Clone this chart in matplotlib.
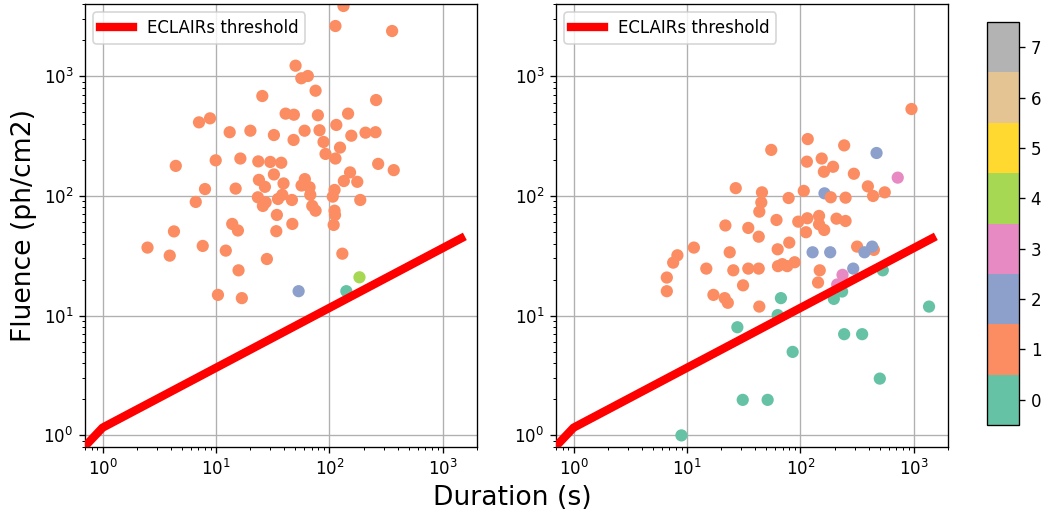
import matplotlib
matplotlib.use("Agg")
import matplotlib.pyplot as plt
import numpy as np

# ---------------- data ----------------
left_duration = [133, 113, 357, 50.3, 56.5, 64.5, 75.5, 25.6, 258, 41.1,
                 48.6, 79.1, 146, 7.08, 8.86, 115, 13.2, 20.1, 32.4, 60.4,
                 81.8, 156, 208, 255, 48.3, 88.7, 124, 92.4, 113, 4.42,
                 9.94, 16.4, 23.6, 30.1, 37.6, 269, 369, 32.4, 152, 23.9,
                 60.7, 134, 176, 27.0, 39.4, 56.8, 66.8, 111, 8.0, 14.9,
                 67.8, 38.4, 23.4, 35.2, 46.7, 27.4, 107, 187, 6.63, 25.9,
                 70.6, 75.5, 111, 112, 34.4, 13.9, 47.1, 109, 4.26, 15.6,
                 34.0, 2.49, 3.91, 7.64, 12.2, 28.1, 130, 15.8, 53.5, 141,
                 184, 10.4, 16.9]
left_fluence = [3850, 2620, 2380, 1222, 959, 1002, 755, 682, 631, 486,
                476, 471, 486, 411, 444, 391, 340, 350, 322, 350,
                353, 318, 337, 340, 293, 282, 253, 224, 205, 178,
                198, 205, 194, 192, 189, 185, 164, 151, 157, 136,
                138, 133, 131, 119, 127, 122, 118, 112, 114, 115,
                102, 102, 97.3, 94.2, 92.4, 88.4, 98.5, 92.4, 89.0, 82.4,
                82.4, 75.2, 75.2, 69.3, 69.3, 58.3, 58.3, 57.2, 50.5, 51.4,
                50.7, 37.0, 31.7, 38.2, 34.9, 29.7, 32.9, 23.9, 16.0, 16.0,
                20.9, 14.9, 14.0]
left_category = [1, 1, 1, 1, 1, 1, 1, 1, 1, 1,
                 1, 1, 1, 1, 1, 1, 1, 1, 1, 1,
                 1, 1, 1, 1, 1, 1, 1, 1, 1, 1,
                 1, 1, 1, 1, 1, 1, 1, 1, 1, 1,
                 1, 1, 1, 1, 1, 1, 1, 1, 1, 1,
                 1, 1, 1, 1, 1, 1, 1, 1, 1, 1,
                 1, 1, 1, 1, 1, 1, 1, 1, 1, 1,
                 1, 1, 1, 1, 1, 1, 1, 1, 2, 0,
                 4, 1, 1]

right_duration = [953, 116, 55.3, 243, 469, 154, 114, 194, 161, 296,
                  721, 393, 26.9, 45.8, 107, 163, 554, 437, 185, 250,
                  78.7, 45.2, 43.4, 61.5, 95.7, 115, 146, 146, 208, 250,
                  21.8, 34.7, 112, 162, 42.9, 11.5, 8.23, 7.55, 23.8, 63.0,
                  79.7, 128, 183, 316, 444, 367, 429, 14.8, 25.6, 34.7,
                  42.9, 63.4, 69.2, 76.5, 88.9, 148, 292, 532, 6.64, 31.2,
                  143, 235, 211, 6.64, 17.1, 21.5, 22.9, 43.4, 67.3, 197,
                  233, 63.0, 1361, 27.8, 85.4, 243, 350, 501, 31.0, 51.4,
                  8.93]
right_fluence = [531, 298, 242, 264, 228, 205, 193, 175, 159, 153,
                 142, 120, 116, 107, 110, 105, 107, 99.8, 97.3, 96.6,
                 96.0, 88.1, 73.8, 62.9, 60.9, 65.0, 68.0, 57.9, 64.5, 61.7,
                 56.6, 54.0, 49.7, 51.9, 45.6, 37.0, 31.9, 27.7, 33.8, 35.8,
                 40.7, 33.8, 33.8, 37.7, 35.4, 33.8, 37.7, 24.7, 23.9, 24.7,
                 24.7, 25.9, 26.9, 25.9, 27.9, 23.9, 24.7, 23.9, 20.8, 17.9,
                 18.9, 21.9, 18.2, 16.0, 14.9, 14.0, 12.8, 11.9, 14.0, 13.8,
                 15.9, 10.1, 11.9, 8.0, 4.98, 7.0, 7.0, 2.98, 1.98, 1.98,
                 1.0]
right_category = [1, 1, 1, 1, 2, 1, 1, 1, 1, 1,
                  3, 1, 1, 1, 1, 2, 1, 1, 1, 1,
                  1, 1, 1, 1, 1, 1, 1, 1, 1, 1,
                  1, 1, 1, 1, 1, 1, 1, 1, 1, 1,
                  1, 2, 2, 1, 1, 2, 2, 1, 1, 1,
                  1, 1, 1, 1, 1, 1, 2, 0, 1, 1,
                  1, 3, 3, 1, 1, 1, 1, 1, 0, 0,
                  0, 0, 0, 0, 0, 0, 0, 0, 0, 0,
                  0]

threshold_duration = [0.5, 1.0, 1450]
threshold_fluence = [0.58, 1.16, 44.2]

categories = [0, 1, 2, 3, 4, 5, 6, 7]

# ---------------- figure ----------------
DPI = 120
fig = plt.figure(figsize=(1048 / DPI, 516 / DPI), dpi=DPI)
W, H = 1048, 516

def axbox(x0, y0, x1, y1):
    return [x0 / W, 1 - y1 / H, (x1 - x0) / W, (y1 - y0) / H]

ax1 = fig.add_axes(axbox(85, 4, 477, 447))
ax2 = fig.add_axes(axbox(556, 4, 948, 447))
cax = fig.add_axes(axbox(987, 22, 1019, 425))

cmap = plt.get_cmap('Set2', 8)

sc = None
for ax, T, F, C in [(ax1, left_duration, left_fluence, left_category),
                    (ax2, right_duration, right_fluence, right_category)]:
    sc = ax.scatter(T, F, c=C, cmap=cmap, vmin=-0.5, vmax=7.5, s=40,
                    zorder=2)
    ax.plot(threshold_duration, threshold_fluence, color='red', lw=5,
            label='ECLAIRs threshold', zorder=3)
    ax.set_xscale('log')
    ax.set_yscale('log')
    ax.set_xlim(0.7, 2000)
    ax.set_ylim(0.8, 4000)
    ax.grid(True, which='major', color='#b0b0b0', lw=0.8, zorder=0)
    ax.set_axisbelow(True)
    ax.legend(loc='upper left', fontsize=10)

ax1.set_ylabel('Fluence (ph/cm2)', fontsize=16)
fig.text(0.4885, 0.035, 'Duration (s)', ha='center', va='center', fontsize=16)

cb = fig.colorbar(sc, cax=cax, ticks=categories)
cb.ax.set_yticklabels([str(c) for c in categories])

fig.savefig('out.png', dpi=DPI)
